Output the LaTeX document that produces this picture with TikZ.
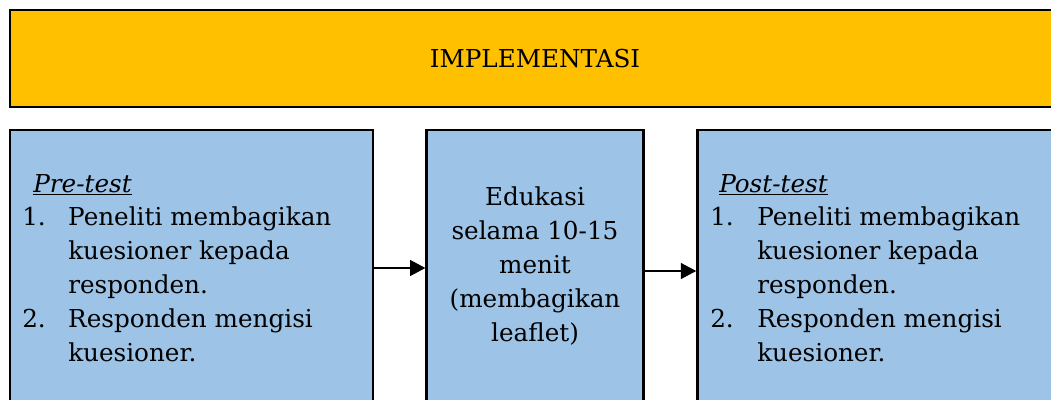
\documentclass[tikz,border=0pt]{standalone}
\usepackage{fontspec}
\setmainfont{DejaVu Serif}
\usepackage{tikz}
\usetikzlibrary{arrows.meta,positioning}
\definecolor{banner}{HTML}{FFC000}
\definecolor{panel}{HTML}{9DC3E6}

\begin{document}
\begin{tikzpicture}[x=0.75pt,y=-0.75pt,node distance=38.25pt,
 stepbox/.style={draw=black,line width=2.1pt,fill=panel,inner sep=0pt,minimum height=207pt},
 body/.style={font=\fontsize{18.5}{25.5}\selectfont,inner sep=0pt},
 flow/.style={-{Triangle[length=11.5pt,width=12pt]},line width=0.8pt}]
 \clip (0,0) rectangle (1051,400);
 \useasboundingbox (0,0) rectangle (1051,400);
 \node[draw=black,line width=2.1pt,fill=banner,minimum width=787.5pt,minimum height=72.75pt,
 inner sep=0pt,body] (impl) at (535,58.5) {IMPLEMENTASI};
 \node[stepbox,minimum width=272.25pt] (prebox) at (191.5,268) {};
 \node[stepbox,minimum width=162.75pt,right=of prebox] (edubox) {};
 \node[stepbox,minimum width=285pt,right=38.25pt of edubox] (postbox) {};
 % isi kotak
 \node[body,anchor=base west] (prehead) at (33,192) {\underline{\textit{Pre-test}}};
 \node[body,anchor=base west] (prelist) at (22,225) {\begin{tabular}[t]{@{}p{34.5pt}@{}l@{}}
 1. & Peneliti membagikan\\ & kuesioner kepada\\ & responden.\\
 2. & Responden mengisi\\ & kuesioner.\end{tabular}};
 \node[body,anchor=base] (edutext) at (535,205) {\begin{tabular}[t]{@{}c@{}}
 Edukasi\\ selama 10-15\\ menit\\ (membagikan\\ leaflet)\end{tabular}};
 \node[body,anchor=base west] (posthead) at (719,192) {\underline{\textit{Post-test}}};
 \node[body,anchor=base west] (postlist) at (710,225) {\begin{tabular}[t]{@{}p{35.25pt}@{}l@{}}
 1. & Peneliti membagikan\\ & kuesioner kepada\\ & responden.\\
 2. & Responden mengisi\\ & kuesioner.\end{tabular}};
 % panah
 \draw[flow] (prebox.east) -- (edubox.west);
 \draw[flow] ([yshift=-2.25pt]edubox.east) -- ([yshift=-2.25pt]postbox.west);
\end{tikzpicture}
\end{document}
